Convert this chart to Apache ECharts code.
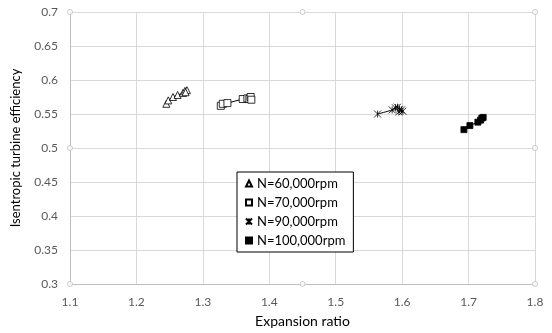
<!DOCTYPE html>
<html>
<head>
<meta charset="utf-8">
<script src="https://cdn.jsdelivr.net/npm/echarts@6/dist/echarts.min.js"></script>
<style>
  html, body { margin: 0; padding: 0; background: #fff; }
  #chart { width: 552px; height: 333px; }
</style>
</head>
<body>
<div id="chart"></div>
<script>
// expansion ratio / efficiency pairs
const n60 = [[1.245, 0.565], [1.248, 0.570], [1.255, 0.575], [1.262, 0.578], [1.270, 0.581], [1.273, 0.584], [1.276, 0.585], [1.274, 0.582]];
const n70 = [[1.327, 0.562], [1.330, 0.565], [1.337, 0.566], [1.360, 0.572], [1.367, 0.573], [1.370, 0.572], [1.372, 0.575], [1.373, 0.571]];
const n90 = [[1.563, 0.550], [1.585, 0.556], [1.590, 0.559], [1.593, 0.560], [1.596, 0.557], [1.599, 0.556], [1.601, 0.554], [1.595, 0.553]];
const n100 = [[1.693, 0.527], [1.702, 0.533], [1.714, 0.538], [1.718, 0.541], [1.720, 0.544], [1.722, 0.545]];
const seriesNames = ["N=60,000rpm", "N=70,000rpm", "N=90,000rpm", "N=100,000rpm"];
// Excel selection handles around the plot area
const handlePoints = [[1.1, 0.7], [1.45, 0.7], [1.8, 0.7], [1.1, 0.5], [1.8, 0.5], [1.1, 0.3], [1.45, 0.3], [1.8, 0.3]];

const font = "Lato";
const chart = echarts.init(document.getElementById("chart"));

const asterisk = "path://M0,0L10,10M10,0L0,10M5,0L5,10";
const symbols = ["triangle", "rect", asterisk, "rect"];

function lineSeries(name, data, symbol, size, fill) {
  return {
    name: name,
    type: "line",
    data: data,
    symbol: symbol,
    symbolSize: size,
    smooth: 0.3,
    lineStyle: { color: "#000", width: 1 },
    itemStyle: { color: fill, borderColor: "#000", borderWidth: 0.8 },
    emphasis: { disabled: true },
    z: 3,
  };
}

chart.setOption({
  animation: false,
  textStyle: { fontFamily: font },
  grid: { left: 70, right: 17, top: 12, bottom: 46 },
  legend: {
    data: seriesNames.map((n, i) => ({ name: n, icon: symbols[i] })),
    orient: "vertical",
    left: 237,
    top: 172,
    width: 117,
    itemWidth: 6,
    itemHeight: 6,
    itemGap: 6,
    padding: [5, 8, 5, 8],
    borderColor: "#000",
    borderWidth: 1,
    backgroundColor: "#fff",
    textStyle: { fontFamily: font, fontSize: 13, color: "#000", padding: [0, 0, 0, 0] },
  },
  xAxis: {
    type: "value",
    min: 1.1,
    max: 1.8,
    interval: 0.1,
    name: "Expansion ratio",
    nameLocation: "middle",
    nameGap: 30,
    nameTextStyle: { fontFamily: font, fontSize: 14, color: "#000" },
    axisLine: { lineStyle: { color: "#bfbfbf" } },
    axisTick: { show: false },
    axisLabel: { color: "#595959", fontSize: 12, margin: 12 },
    splitLine: { lineStyle: { color: "#d9d9d9" } },
  },
  yAxis: {
    type: "value",
    min: 0.3,
    max: 0.7,
    interval: 0.05,
    name: "Isentropic turbine efficiency",
    nameLocation: "middle",
    nameGap: 48,
    nameTextStyle: { fontFamily: font, fontSize: 13, color: "#000" },
    axisLine: { show: true, lineStyle: { color: "#bfbfbf" } },
    axisTick: { show: false },
    axisLabel: { color: "#595959", fontSize: 12, margin: 12 },
    splitLine: { lineStyle: { color: "#d9d9d9" } },
  },
  series: [
    lineSeries(seriesNames[0], n60, symbols[0], 7, "#fff"),
    lineSeries(seriesNames[1], n70, symbols[1], 7, "#fff"),
    lineSeries(seriesNames[2], n90, symbols[2], 7, "rgba(0,0,0,0)"),
    lineSeries(seriesNames[3], n100, symbols[3], 6, "#000"),
    {
      type: "scatter",
      data: handlePoints,
      symbol: "circle",
      symbolSize: 5,
      itemStyle: { color: "#fff", borderColor: "#bfbfbf", borderWidth: 1 },
      silent: true,
      z: 1,
    },
  ],
});
</script>
</body>
</html>
